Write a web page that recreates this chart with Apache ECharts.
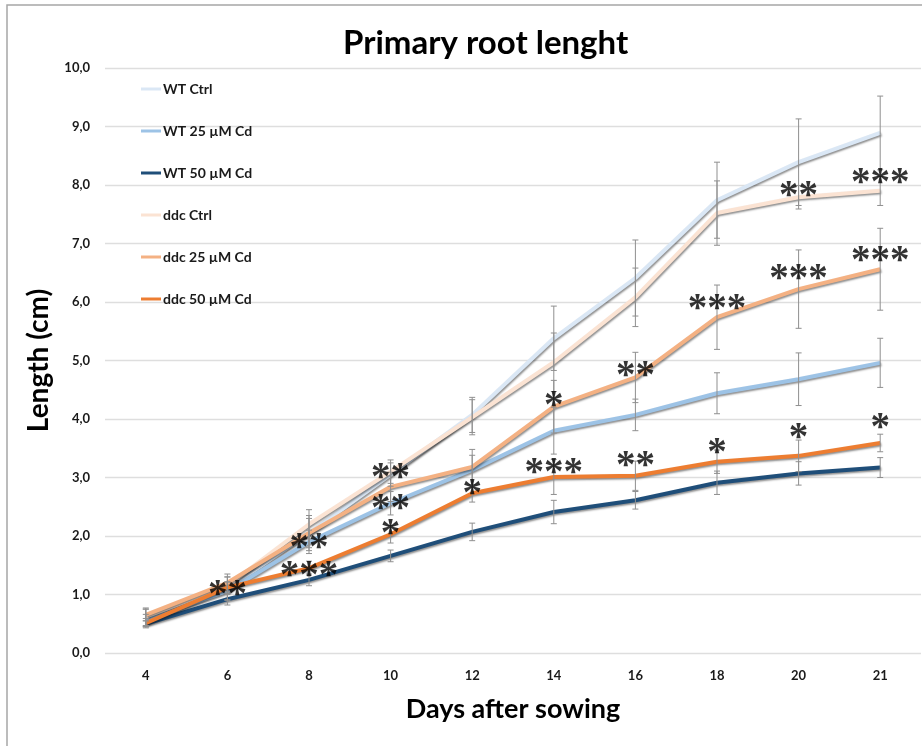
<!DOCTYPE html>
<html>
<head>
<meta charset="utf-8">
<title>Primary root lenght</title>
<script src="https://cdn.jsdelivr.net/npm/echarts@6/dist/echarts.min.js"></script>
<style>
  html, body { margin: 0; padding: 0; background: #fff; }
  #chart { width: 922px; height: 746px; }
</style>
</head>
<body>
<div id="chart"></div>
<script>
// days after sowing
var days = ['4', '6', '8', '10', '12', '14', '16', '18', '20', '21'];

// mean root length (cm)
var wtCtrl  = [0.60, 1.10, 2.05, 3.05, 4.07, 5.38, 6.41, 7.74, 8.39, 8.89];
var wt25    = [0.56, 1.06, 1.90, 2.56, 3.13, 3.80, 4.07, 4.44, 4.68, 4.96];
var wt50    = [0.50, 0.92, 1.25, 1.66, 2.07, 2.41, 2.61, 2.91, 3.07, 3.17];
var ddcCtrl = [0.62, 1.15, 2.20, 3.10, 4.03, 4.97, 6.08, 7.52, 7.79, 7.90];
var ddc25   = [0.65, 1.20, 2.05, 2.84, 3.18, 4.21, 4.71, 5.74, 6.22, 6.56];
var ddc50   = [0.51, 1.12, 1.45, 2.03, 2.73, 3.01, 3.03, 3.27, 3.37, 3.59];

// standard deviation (cm)
var wtCtrlSd  = [0.15, 0.20, 0.30, 0.20, 0.30, 0.55, 0.65, 0.65, 0.74, 0.63];
var wt25Sd    = [0.10, 0.15, 0.20, 0.20, 0.25, 0.40, 0.27, 0.35, 0.45, 0.42];
var wt50Sd    = [0.05, 0.10, 0.10, 0.10, 0.15, 0.20, 0.15, 0.20, 0.20, 0.17];
var ddcCtrlSd = [0.15, 0.15, 0.25, 0.20, 0.30, 0.50, 0.50, 0.55, 0.20, 0.25];
var ddc25Sd   = [0.10, 0.15, 0.25, 0.25, 0.30, 0.45, 0.43, 0.55, 0.67, 0.70];
var ddc50Sd   = [0.08, 0.10, 0.12, 0.15, 0.15, 0.30, 0.25, 0.20, 0.27, 0.15];

// significance marks
var wt25Sig    = ['', '', '**', '**', '', '', '', '', '', ''];
var ddcCtrlSig = ['', '', '', '', '', '', '', '', '**', '***'];
var ddc25Sig   = ['', '', '', '**', '', '*', '**', '***', '***', '***'];
var ddc50Sig   = ['', '**', '***', '*', '*', '***', '**', '*', '*', '*'];

// y-axis ticks
var yTicks = [0, 1, 2, 3, 4, 5, 6, 7, 8, 9, 10];

// vertical lift of the star labels above their point (px)
var wt25Lift    = [0, 0, 0, 0, 0, 0, 0, 0, 0, 0];
var ddcCtrlLift = [0, 0, 0, 0, 0, 0, 0, 0, -7, -14];
var ddc25Lift   = [0, 0, 0, -15, 0, -7, -8, -14, -16, -14];
var ddc50Lift   = [0, 1, 2, -6, -5, -10, -16, -15, -24, -21];
var starShift = 7; // glyph sits high in its box

var font = 'Lato, "Open Sans", sans-serif';

var groups = [
  { name: 'WT Ctrl',      mean: wtCtrl,  sd: wtCtrlSd,  color: '#dae7f5' },
  { name: 'WT 25 µM Cd',  mean: wt25,    sd: wt25Sd,    color: '#9dc3e6' },
  { name: 'WT 50 µM Cd',  mean: wt50,    sd: wt50Sd,    color: '#1f4e79' },
  { name: 'ddc Ctrl',     mean: ddcCtrl, sd: ddcCtrlSd, color: '#fbe3d3' },
  { name: 'ddc 25 µM Cd', mean: ddc25,   sd: ddc25Sd,   color: '#f4b183' },
  { name: 'ddc 50 µM Cd', mean: ddc50,   sd: ddc50Sd,   color: '#ed7d31' }
];

var marks = [
  { mean: wt25,    sig: wt25Sig,    lift: wt25Lift },
  { mean: ddcCtrl, sig: ddcCtrlSig, lift: ddcCtrlLift },
  { mean: ddc25,   sig: ddc25Sig,   lift: ddc25Lift },
  { mean: ddc50,   sig: ddc50Sig,   lift: ddc50Lift }
];

// error bars: [index, low, high]
var errData = [];
groups.forEach(function (g) {
  g.mean.forEach(function (v, i) {
    errData.push([i, v - g.sd[i], v + g.sd[i]]);
  });
});

var starData = [];
marks.forEach(function (m) {
  m.sig.forEach(function (s, i) {
    if (s) starData.push({ value: [i, m.mean[i]], label: { formatter: s, offset: [0, m.lift[i] + starShift] } });
  });
});

function renderErr(params, api) {
  var x = api.value(0);
  var top = api.coord([x, api.value(2)]);
  var bot = api.coord([x, api.value(1)]);
  var st = { stroke: '#8f8f8f', lineWidth: 1 };
  return {
    type: 'group',
    children: [
      { type: 'line', shape: { x1: top[0], y1: top[1], x2: bot[0], y2: bot[1] }, style: st },
      { type: 'line', shape: { x1: top[0] - 3, y1: top[1], x2: top[0] + 3, y2: top[1] }, style: st },
      { type: 'line', shape: { x1: bot[0] - 3, y1: bot[1], x2: bot[0] + 3, y2: bot[1] }, style: st }
    ]
  };
}

var series = groups.map(function (g) {
  return {
    name: g.name,
    type: 'line',
    data: g.mean,
    symbol: 'none',
    z: 3,
    lineStyle: {
      color: g.color,
      width: 4,
      shadowColor: 'rgba(0,0,0,0.45)',
      shadowBlur: 2,
      shadowOffsetX: 1,
      shadowOffsetY: 1.5
    },
    itemStyle: { color: g.color }
  };
});

series.push({
  type: 'custom',
  renderItem: renderErr,
  data: errData,
  z: 4,
  silent: true
});

series.push({
  type: 'scatter',
  data: starData,
  symbolSize: 0,
  z: 5,
  silent: true,
  label: {
    show: true,
    position: 'inside',
    color: '#000',
    fontFamily: '"Liberation Serif", serif',
    fontWeight: 'bold',
    fontSize: 39,
    lineHeight: 39
  }
});

var chart = echarts.init(document.getElementById('chart'));
chart.setOption({
  backgroundColor: '#fff',
  animation: false,
  graphic: [{
    type: 'rect',
    shape: { x: 7, y: 5, width: 2000, height: 2000 },
    style: { fill: 'none', stroke: '#a6a6a6', lineWidth: 1.5 },
    silent: true
  }],
  title: {
    text: 'Primary root lenght',
    left: 338,
    top: 22,
    textStyle: { fontFamily: font, fontWeight: 'bold', fontSize: 33, color: '#000' }
  },
  legend: {
    orient: 'vertical',
    left: 136,
    top: 76,
    itemWidth: 20,
    itemHeight: 3,
    itemGap: 26,
    icon: 'rect',
    data: groups.map(function (g) { return g.name; }),
    textStyle: { fontFamily: font, fontWeight: 'bold', fontSize: 14, lineHeight: 16, color: '#1a1a1a', padding: [0, 0, 0, -3] }
  },
  grid: { left: 105, right: 1, top: 68, bottom: 93 },
  xAxis: {
    type: 'category',
    data: days,
    boundaryGap: true,
    name: 'Days after sowing',
    nameLocation: 'middle',
    nameGap: 43,
    nameTextStyle: { fontFamily: font, fontWeight: 'bold', fontSize: 27, color: '#000' },
    axisLine: { show: false },
    axisTick: { show: false },
    axisLabel: { fontFamily: font, fontWeight: 'bold', fontSize: 13, color: '#1a1a1a', margin: 16 }
  },
  yAxis: {
    type: 'value',
    min: yTicks[0],
    max: yTicks[yTicks.length - 1],
    interval: 1,
    name: 'Length (cm)',
    nameLocation: 'middle',
    nameGap: 46,
    nameTextStyle: { fontFamily: font, fontWeight: 'bold', fontSize: 28, color: '#000' },
    axisLine: { show: false },
    axisTick: { show: false },
    axisLabel: {
      fontFamily: font, fontWeight: 'bold', fontSize: 13, color: '#1a1a1a', margin: 15,
      formatter: function (v) { return v.toFixed(1).replace('.', ','); }
    },
    splitLine: { lineStyle: { color: '#dedede', width: 1.3 } }
  },
  series: series
});
</script>
</body>
</html>
